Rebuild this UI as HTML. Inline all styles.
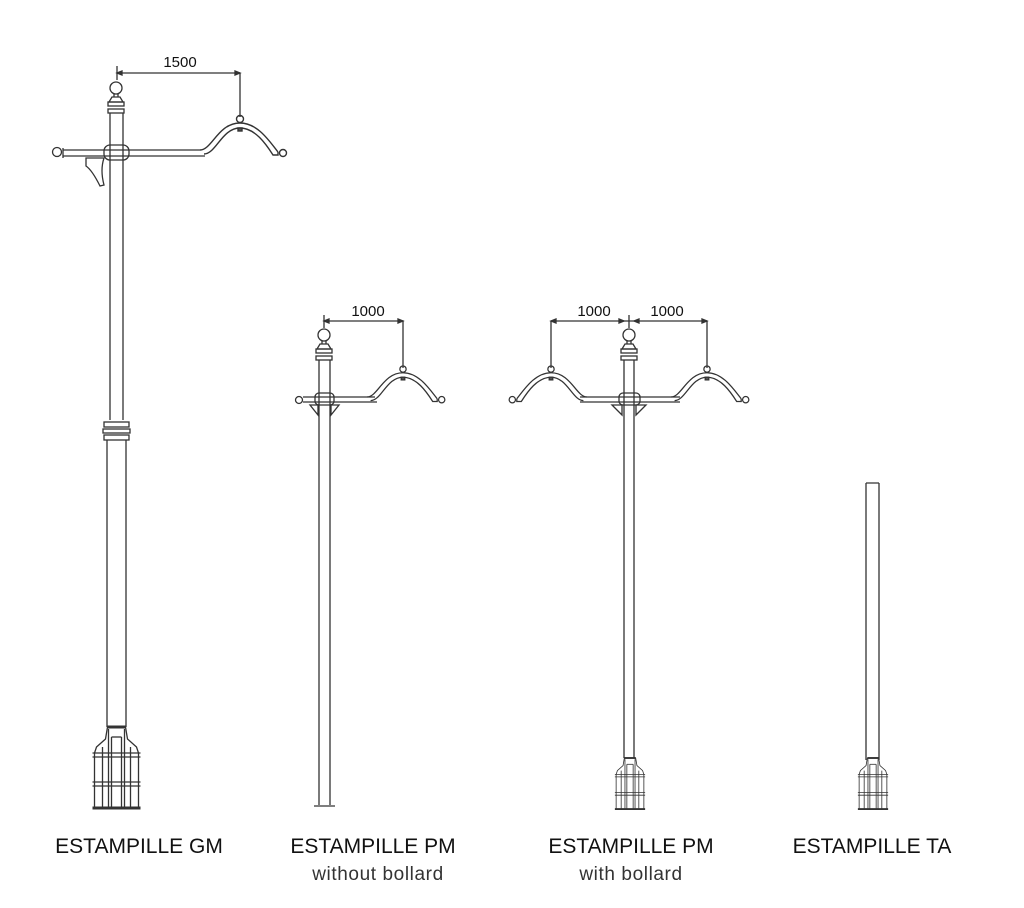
<!DOCTYPE html>
<html><head><meta charset="utf-8"><style>
html,body{margin:0;padding:0;background:#fff;width:1024px;height:908px;overflow:hidden}
svg{display:block}
.t{font-family:"Liberation Sans",sans-serif;fill:#111}
</style></head><body>
<svg width="1024" height="908" viewBox="0 0 1024 908" xmlns="http://www.w3.org/2000/svg">
<defs>
<g id="base" fill="none" stroke="#333" stroke-width="1.3">
  <path d="M-9,0 L9,0 L11,12 L20,20 L22,26 L22,81 M-9,0 L-11,12 L-20,20 L-22,26 L-22,81"/>
  <path d="M-24,26 L24,26 M-24,30 L24,30 M-24,55 L24,55 M-24,59 L24,59"/>
  <path d="M-8,2 L-8,81 M8,2 L8,81 M-5,10 L-5,81 M5,10 L5,81 M-14,20 L-14,81 M14,20 L14,81"/>
  <path d="M-5,10 L5,10"/>
  <path d="M-24,81 L24,81" stroke-width="3"/>
  <path d="M-9,0 L9,0" stroke-width="3"/>
</g>
<g id="arc" fill="none" stroke="#333" stroke-width="1.4">
  <path d="M-40,0 C-28,0 -22,-27 0,-27 C18,-27 30,-8 38,2"/>
  <path d="M-36,4 C-24,4 -18,-22 0,-22 C15,-22 26,-6 33,5 L38,5 L38,2"/>
  <circle cx="0" cy="-31" r="3.5"/>
  <circle cx="43" cy="3" r="3.5"/>
  <rect x="-2" y="-22" width="4" height="3" fill="#555"/>
</g>
<g id="head" fill="none" stroke="#333" stroke-width="1.3">
  <circle cx="0" cy="0" r="6"/>
  <path d="M-2,6 L-2,9 L2,9 L2,6 M-4,9 L4,9 L7,14 L-7,14 Z"/>
  <rect x="-8" y="14" width="16" height="4"/>
  <rect x="-8" y="21" width="16" height="4"/>
</g>
</defs>

<g fill="none" stroke="#333" stroke-width="1.3">
<!-- GM -->
<path d="M117,66 L117,80 M117,73 L240,73 M240,73 L240,117"/>
<path d="M117,73 l5,-2 v4 z M240,73 l-5,-2 v4 z" fill="#333"/>
<use href="#head" x="116" y="88"/>
<path d="M110,113 L110,420 M123,113 L123,420"/>
<rect x="104" y="422" width="25" height="5"/><rect x="103" y="429" width="27" height="4"/><rect x="104" y="435" width="25" height="5"/>
<path d="M107,440 L107,727 M126,440 L126,727"/>
<use href="#base" x="116.5" y="727"/>
<path d="M63,150 L200,150 M63,156 L205,156"/>
<path d="M63,148 L63,158"/>
<circle cx="57" cy="152" r="4.5"/>
<rect x="104" y="145" width="25" height="15" rx="6"/>
<path d="M86,158 L104,158 Q100,170 104,185 L100,186 Q92,170 86,166 Z"/>
<use href="#arc" x="240" y="150" />
<!-- PM without -->
<path d="M324,315 L324,328 M324,321 L403,321 L403,368"/>
<path d="M324,321 l5,-2 v4 z M403,321 l-5,-2 v4 z" fill="#333"/>
<use href="#head" x="324" y="335"/>
<path d="M319,360 L319,805 M330,360 L330,805 M314,806 L335,806"/>
<path d="M303,397 L375,397 M303,402 L377,402"/>
<circle cx="299" cy="400" r="3.5"/>
<rect x="315" y="393" width="19" height="12" rx="4"/>
<path d="M310,405 L318,405 L318,415 Z M339,405 L331,405 L331,415 Z"/>
<g transform="translate(403,397) scale(0.9)"><use href="#arc"/></g>
<!-- PM with -->
<path d="M551,321 L707,321 M551,321 L551,368 M707,321 L707,368 M629,315 L629,328"/>
<path d="M551,321 l5,-2 v4 z M624,321 l-5,-2 v4 z M634,321 l5,-2 v4 z M707,321 l-5,-2 v4 z" fill="#333"/>
<use href="#head" x="629" y="335"/>
<path d="M624,360 L624,758 M634,360 L634,758"/>
<use href="#base" transform="translate(630,758) scale(0.63)"/>
<path d="M580,397 L680,397 M580,402 L680,402"/>
<rect x="619" y="393" width="21" height="12" rx="4"/>
<path d="M612,405 L622,405 L622,415 Z M646,405 L636,405 L636,415 Z"/>
<g transform="translate(707,397) scale(0.9)"><use href="#arc"/></g>
<g transform="translate(551,397) scale(-0.9,0.9)"><use href="#arc"/></g>
<!-- TA -->
<path d="M866,483 L879,483 M866,483 L866,760 M879,483 L879,760"/>
<use href="#base" transform="translate(873,758) scale(0.63)"/>
</g>

<text class="t" x="180" y="67" font-size="15" text-anchor="middle">1500</text>
<text class="t" x="368" y="316" font-size="15" text-anchor="middle">1000</text>
<text class="t" x="594" y="316" font-size="15" text-anchor="middle">1000</text>
<text class="t" x="667" y="316" font-size="15" text-anchor="middle">1000</text>

<text class="t" x="139" y="853" font-size="21" text-anchor="middle">ESTAMPILLE GM</text>
<text class="t" x="373" y="853" font-size="21" text-anchor="middle">ESTAMPILLE PM</text>
<text class="t" x="378" y="880" font-size="19" text-anchor="middle" letter-spacing="0.6" style="fill:#333">without bollard</text>
<text class="t" x="631" y="853" font-size="21" text-anchor="middle">ESTAMPILLE PM</text>
<text class="t" x="631" y="880" font-size="19" text-anchor="middle" letter-spacing="0.6" style="fill:#333">with bollard</text>
<text class="t" x="872" y="853" font-size="21" text-anchor="middle">ESTAMPILLE TA</text>
</svg>
</body></html>
